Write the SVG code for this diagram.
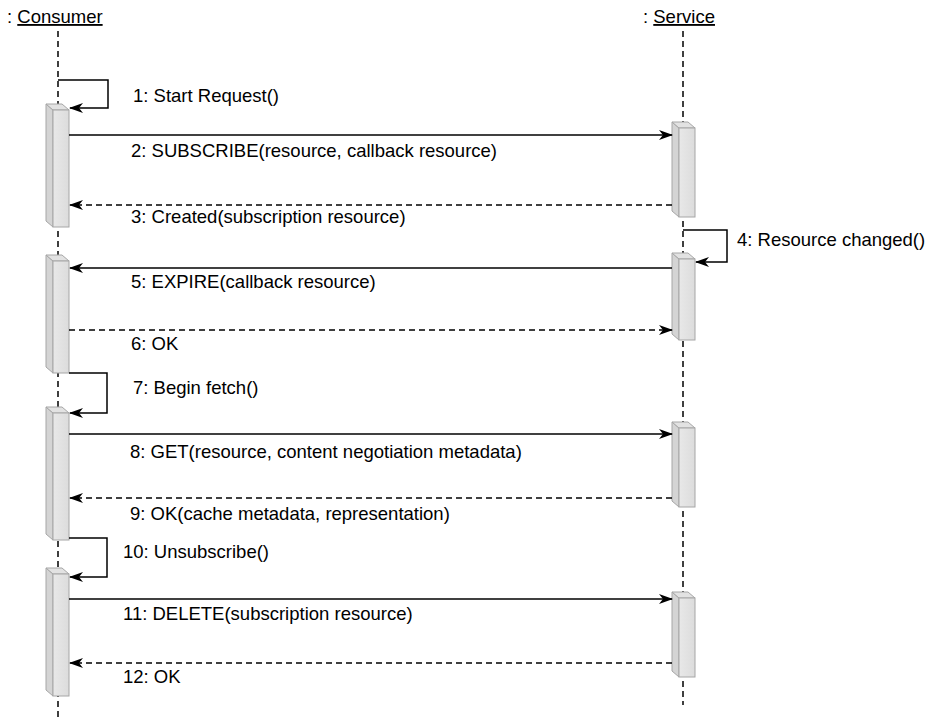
<svg xmlns="http://www.w3.org/2000/svg" width="928" height="720" viewBox="0 0 928 720">
<style>
text{font-family:"Liberation Sans",Arial,Helvetica,sans-serif;font-size:18.5px;fill:#000}
.life{stroke:#000;stroke-width:1.5;stroke-dasharray:6 4;fill:none}
.msg{stroke:#000;stroke-width:1.5;fill:none}
.ret{stroke:#000;stroke-width:1.5;fill:none;stroke-dasharray:6 4}
.side{fill:#d4d4d4;stroke:#a6a6a6;stroke-width:1}
.top{fill:#e2e2e2;stroke:#a6a6a6;stroke-width:1}
.front{fill:url(#g);stroke:#a6a6a6;stroke-width:1}
</style>
<defs>
<linearGradient id="g" x1="0" y1="0" x2="1" y2="0">
<stop offset="0" stop-color="#e8e8e8"/><stop offset="1" stop-color="#dcdcdc"/>
</linearGradient>
<marker id="ah" viewBox="0 0 14 10" refX="13" refY="5" markerWidth="14" markerHeight="10" markerUnits="userSpaceOnUse" orient="auto">
<path d="M0,0 L14,5 L0,10 L4,5 Z" fill="#000"/>
</marker>
<symbol id="box" overflow="visible">
</symbol>
</defs>
<rect width="928" height="720" fill="#fff"/>
<g id="consumer">
<text x="7" y="23">: <tspan text-decoration="underline">Consumer</tspan></text>
<line class="life" x1="58" y1="31" x2="58" y2="720"/>
</g>
<g id="service">
<text x="643" y="23">: <tspan text-decoration="underline">Service</tspan></text>
<line class="life" x1="683" y1="31" x2="683" y2="705"/>
</g>
<g id="c-act1">
<polygon class="side" points="46,104 53,110 53,227 46,221"/>
<polygon class="top" points="46,104 62,104 69,110 53,110"/>
<rect class="front" x="53" y="110" width="16" height="117"/>
</g>
<g id="c-act2">
<polygon class="side" points="46,255 53,261 53,373 46,367"/>
<polygon class="top" points="46,255 62,255 69,261 53,261"/>
<rect class="front" x="53" y="261" width="16" height="112"/>
</g>
<g id="c-act3">
<polygon class="side" points="46,407 53,413 53,540 46,534"/>
<polygon class="top" points="46,407 62,407 69,413 53,413"/>
<rect class="front" x="53" y="413" width="16" height="127"/>
</g>
<g id="c-act4">
<polygon class="side" points="46,568 53,574 53,696 46,690"/>
<polygon class="top" points="46,568 62,568 69,574 53,574"/>
<rect class="front" x="53" y="574" width="16" height="122"/>
</g>
<g id="s-act1">
<polygon class="side" points="672,122 679,128 679,217 672,211"/>
<polygon class="top" points="672,122 688,122 695,128 679,128"/>
<rect class="front" x="679" y="128" width="16" height="89"/>
</g>
<g id="s-act2">
<polygon class="side" points="672,253 679,259 679,340 672,334"/>
<polygon class="top" points="672,253 688,253 695,259 679,259"/>
<rect class="front" x="679" y="259" width="16" height="81"/>
</g>
<g id="s-act3">
<polygon class="side" points="672,422 679,428 679,507 672,501"/>
<polygon class="top" points="672,422 688,422 695,428 679,428"/>
<rect class="front" x="679" y="428" width="16" height="79"/>
</g>
<g id="s-act4">
<polygon class="side" points="672,592 679,598 679,677 672,671"/>
<polygon class="top" points="672,592 688,592 695,598 679,598"/>
<rect class="front" x="679" y="598" width="16" height="79"/>
</g>
<g id="connectors">
<polyline class="msg" points="58,80 108,80 108,108 70,108" marker-end="url(#ah)"/>
<line class="msg" x1="69" y1="135" x2="672" y2="135" marker-end="url(#ah)"/>
<line class="ret" x1="672" y1="205" x2="70" y2="205" marker-end="url(#ah)"/>
<polyline class="msg" points="683,230 727,230 727,262 696,262" marker-end="url(#ah)"/>
<line class="msg" x1="672" y1="268" x2="70" y2="268" marker-end="url(#ah)"/>
<line class="ret" x1="69" y1="330" x2="672" y2="330" marker-end="url(#ah)"/>
<polyline class="msg" points="69,373 107,373 107,413 70,413" marker-end="url(#ah)"/>
<line class="msg" x1="69" y1="434" x2="672" y2="434" marker-end="url(#ah)"/>
<line class="ret" x1="672" y1="498" x2="70" y2="498" marker-end="url(#ah)"/>
<polyline class="msg" points="69,538 107,538 107,577 70,577" marker-end="url(#ah)"/>
<line class="msg" x1="69" y1="599" x2="672" y2="599" marker-end="url(#ah)"/>
<line class="ret" x1="672" y1="663" x2="70" y2="663" marker-end="url(#ah)"/>
</g>
<g id="labels">
<text x="133" y="102">1: Start Request()</text>
<text x="131" y="157">2: SUBSCRIBE(resource, callback resource)</text>
<text x="131" y="223">3: Created(subscription resource)</text>
<text x="737" y="246">4: Resource changed()</text>
<text x="131" y="288">5: EXPIRE(callback resource)</text>
<text x="131" y="350">6: OK</text>
<text x="133" y="394">7: Begin fetch()</text>
<text x="130" y="458">8: GET(resource, content negotiation metadata)</text>
<text x="130" y="520">9: OK(cache metadata, representation)</text>
<text x="123" y="558">10: Unsubscribe()</text>
<text x="123" y="620">11: DELETE(subscription resource)</text>
<text x="123" y="683">12: OK</text>
</g>
</svg>
